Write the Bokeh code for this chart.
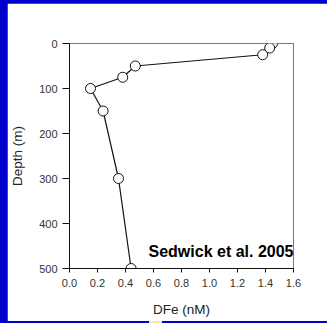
from bokeh.plotting import figure
from bokeh.models import Range1d, FixedTicker, PrintfTickFormatter, Label
from bokeh.layouts import column
from bokeh.embed import file_html
from bokeh.resources import INLINE

# Data
dfe_nM = [1.45, 1.43, 1.38, 0.47, 0.38, 0.15, 0.24, 0.35, 0.44]
depth_m = [0, 10, 25, 50, 75, 100, 150, 300, 500]
x_ticks = [0.0, 0.2, 0.4, 0.6, 0.8, 1.0, 1.2, 1.4, 1.6]
y_ticks = [0, 100, 200, 300, 400, 500]
source_label = "Sedwick et al. 2005"

FONT = "Liberation Sans"

p = figure(width=320, height=318, output_backend="svg", toolbar_location=None,
           x_range=Range1d(0, 1.6), y_range=Range1d(500, 0),
           min_border_left=61, min_border_right=34, min_border_top=40, min_border_bottom=53,
           background_fill_color="white", border_fill_color="white")

p.xgrid.visible = False
p.ygrid.visible = False
p.outline_line_color = "#777777"
p.outline_line_width = 1

for ax in (p.xaxis[0], p.yaxis[0]):
    ax.axis_line_color = "#111111"
    ax.major_tick_line_color = "#111111"
    ax.minor_tick_line_color = None
    ax.major_tick_in = 0
    ax.major_label_text_font = FONT
    ax.major_label_text_font_size = "11px"
    ax.major_label_text_color = "#333333"
    ax.axis_label_text_font = FONT
    ax.axis_label_text_font_size = "13.5px"
    ax.axis_label_text_font_style = "normal"
    ax.axis_label_text_color = "#222222"

p.xaxis.ticker = FixedTicker(ticks=x_ticks)
p.xaxis.formatter = PrintfTickFormatter(format="%.1f")
p.xaxis.major_tick_out = 4
p.xaxis.major_label_standoff = 6
p.xaxis.axis_label = "DFe (nM)"
p.xaxis.axis_label_standoff = 12

p.yaxis.ticker = FixedTicker(ticks=y_ticks)
p.yaxis.major_tick_out = 7
p.yaxis.major_label_standoff = 5
p.yaxis.axis_label = "Depth (m)"
p.yaxis.axis_label_standoff = 11

p.line(dfe_nM, depth_m, line_color="#111111", line_width=1.2)
p.scatter(dfe_nM, depth_m, size=10, marker="circle", fill_color="white",
          line_color="#111111", line_width=1)

p.add_layout(Label(x=1.6, y=462, text=source_label, text_align="right",
                   text_baseline="alphabetic", text_font=FONT,
                   text_font_size="16px", text_font_style="bold",
                   text_color="black"))

layout = column(p, styles={
    "padding": "3px 0px 2px 7px",
    "background": "linear-gradient(to right, transparent 149px, #F2EC9A 149px, #F2EC9A 162px, transparent 162px) bottom / 100% 2px no-repeat, #0000CC",
})

open("out.html", "w").write(file_html(layout, INLINE))
